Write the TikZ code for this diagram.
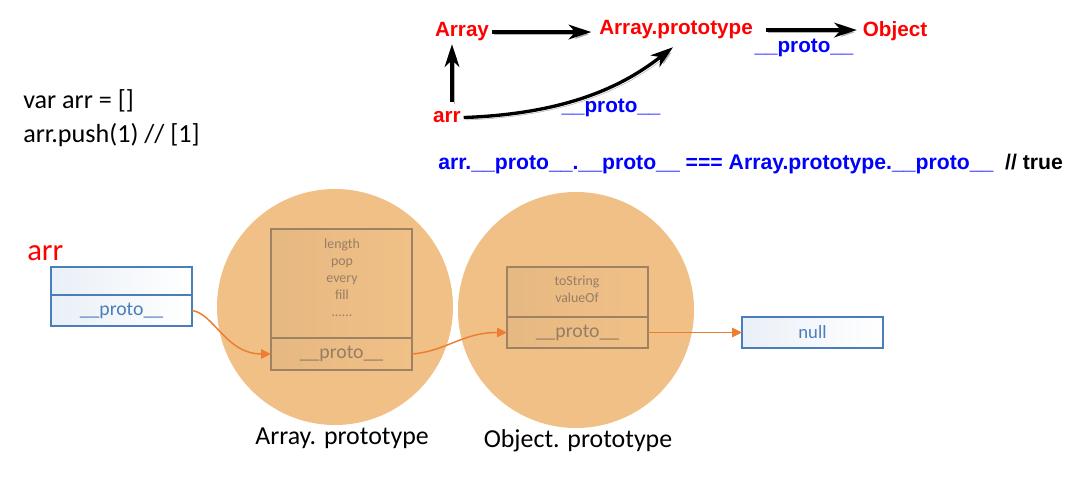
\documentclass[tikz,border=0pt]{standalone}
\usepackage{fontspec}
\setmainfont{Carlito}
\newfontfamily\arialf{Liberation Sans}
\usetikzlibrary{arrows.meta,calc}
\definecolor{circfill}{RGB}{240,192,135}
\definecolor{boxline}{RGB}{158,130,100}
\definecolor{boxtxt}{RGB}{150,126,100}
\definecolor{bluebox}{RGB}{74,126,187}
\definecolor{orangeln}{RGB}{237,125,49}
\definecolor{pblue}{RGB}{0,0,255}
\definecolor{pred}{RGB}{255,0,0}
\tikzset{
  toplabel/.style={font=\arialf\bfseries\fontsize{15.5pt}{18pt}\selectfont, text=pred, inner sep=2pt},
  protolabel/.style={font=\arialf\bfseries\fontsize{15.5pt}{18pt}\selectfont, text=pblue, inner sep=0pt, anchor=base},
  bigarrow/.style={line width=2.5pt, -{Stealth[length=17pt,width=11pt,inset=5pt]},
    preaction={draw=black!30, transform canvas={shift={(1.5pt,-1.8pt)}}}},
  protocircle/.style={circle, fill=circfill, minimum size=236*0.75pt, inner sep=0pt},
  pfield/.style={draw=boxline, line width=0.9pt, left color=circfill!96!black, right color=circfill, inner sep=0pt, outer sep=0pt, minimum width=141*0.75pt},
  bfield/.style={draw=bluebox, line width=0.9pt, left color=bluebox!12, right color=white, inner sep=0pt, outer sep=0pt, minimum width=141*0.75pt},
  smalltxt/.style={font=\fontsize{10.4pt}{12.75pt}\selectfont, text=boxtxt, align=center, inner sep=0pt},
  protofield/.style={font=\fontsize{14.8pt}{16pt}\selectfont},
  orangearrow/.style={draw=orangeln, line width=1.1pt, -{Triangle[length=7.5pt,width=7pt]}},
  caption/.style={font=\fontsize{19.4pt}{22pt}\selectfont, text=black, inner sep=0pt},
  code/.style={font=\fontsize{19.6pt}{22pt}\selectfont, text=black, inner sep=0pt, anchor=base west}
}
\begin{document}
\begin{tikzpicture}[x=0.75pt,y=-0.75pt]
\fill[white] (0,0) rectangle (1083,488);
\useasboundingbox (0,0) rectangle (1083,488);

% top diagram
\node[toplabel, anchor=base] (Array) at (462,37) {Array};
\node[toplabel, anchor=base] (AP) at (676,35) {Array.prototype};
\node[toplabel, anchor=base] (Object) at (895,37) {Object};
\node[toplabel, anchor=base] (arr) at (447,123) {arr};
\node[protolabel] (p1) at (804,53) {\_\_proto\_\_};
\node[protolabel] (p2) at (611,113) {\_\_proto\_\_};

\draw[bigarrow, shorten >=3.75pt] (Array.east) -- (Array.east -| AP.west);
\draw[bigarrow, shorten <=7.5pt, shorten >=2.25pt] (AP.east) -- (AP.east -| Object.west);
\draw[bigarrow] ($(arr.north)+(5,-7)$) -- ($(Array.south)+(-10,0)$);
\draw[bigarrow] (arr.east) .. controls +(110,-4) and +(-45,35) .. ($(AP.south)+(-3,5)$);

\node[font=\arialf\bfseries\fontsize{15.9pt}{18pt}\selectfont, anchor=base west, inner sep=0pt] (eq) at (438,170)
  {\textcolor{pblue}{arr.\_\_proto\_\_.\_\_proto\_\_ === Array.prototype.\_\_proto\_\_}\ \ // true};

% code
\node[code] (c1) at (23,109) {var arr = []};
\node[code] (c2) at (23,143) {arr.push(1) // [1]};

% circles
\node[protocircle] (circ1) at (335,307) {};
\node[protocircle] (circ2) at (576,310) {};

% arr box
\node[font=\fontsize{23pt}{26pt}\selectfont, text=pred, anchor=base west, inner sep=0pt] (arrlbl) at (27,261) {arr};
\node[bfield, minimum height=28*0.75pt] (arrtop) at (121.5,281) {};
\node[bfield, minimum height=31*0.75pt, protofield, text=bluebox] (arrproto) at (121.5,310.5) {\_\_proto\_\_};

% Array.prototype box
\node[pfield, minimum height=109*0.75pt] (b1top) at (341.5,283.5) {};
\node[smalltxt] (b1list) at (342,277.5) {length\\pop\\every\\fill\\......};
\node[pfield, minimum height=32*0.75pt, protofield, text=boxtxt] (b1proto) at (341.5,354) {\_\_proto\_\_};

% Object.prototype box
\node[pfield, minimum height=50*0.75pt] (b2top) at (577.5,292) {};
\node[smalltxt] (b2list) at (577,289.5) {toString\\valueOf};
\node[pfield, minimum height=31*0.75pt, protofield, text=boxtxt] (b2proto) at (577.5,332.5) {\_\_proto\_\_};

% null box
\node[bfield, minimum height=31*0.75pt, font=\fontsize{14pt}{16pt}\selectfont, text=bluebox] (null) at (812.5,332.5) {null};

% captions
\node[caption] (cap1) at (342,438) {Array. prototype};
\node[caption] (cap2) at (578,441) {Object. prototype};

% orange connectors
\draw[orangearrow] (arrproto.east) .. controls +(22,3) and +(-45,0) .. (b1proto.west);
\draw[orangearrow] (b1proto.east) .. controls +(35,-3) and +(-45,0) .. (b2proto.west);
\draw[orangearrow] (b2proto.east) -- (null.west);
\end{tikzpicture}
\end{document}
